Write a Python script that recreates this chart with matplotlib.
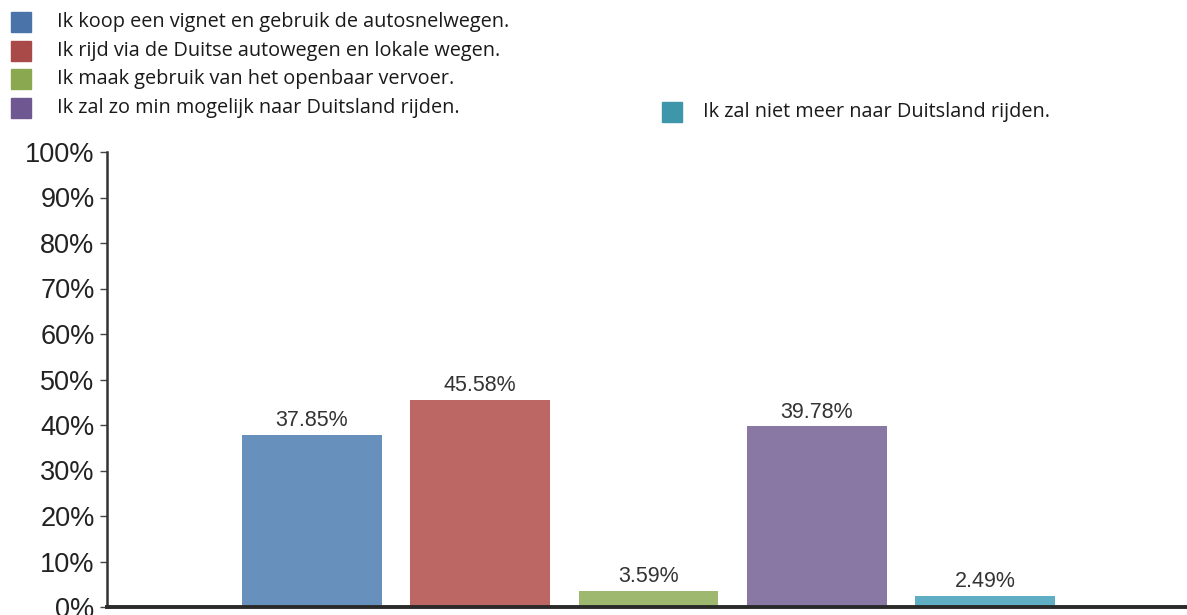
import matplotlib
matplotlib.use("Agg")
import matplotlib.pyplot as plt
from matplotlib.patches import Rectangle
from matplotlib.ticker import FuncFormatter

answers = [
    "Ik koop een vignet en gebruik de autosnelwegen.",
    "Ik rijd via de Duitse autowegen en lokale wegen.",
    "Ik maak gebruik van het openbaar vervoer.",
    "Ik zal zo min mogelijk naar Duitsland rijden.",
    "Ik zal niet meer naar Duitsland rijden.",
]
shares = [37.85, 45.58, 3.59, 39.78, 2.49]
bar_colors = ["#6890bd", "#bc6763", "#9fb86f", "#8a78a4", "#5faec3"]
key_colors = ["#4a74a9", "#a94a48", "#8aa84f", "#6f5791", "#3d96a9"]

W, H = 1187, 615
fig = plt.figure(figsize=(W / 100, H / 100), dpi=100)
ax = fig.add_axes([107 / W, 1 - 607 / H, 1 - 107 / W, (607 - 152) / H])

x = list(range(len(shares)))
bars = ax.bar(x, shares, width=0.83, color=bar_colors)
for rect, v in zip(bars, shares):
    ax.annotate(f"{v:.2f}%", (rect.get_x() + rect.get_width() / 2, v),
                xytext=(0, 2.5), textcoords="offset points", ha="center", va="bottom",
                fontsize=15.5, color="#333333", family="Liberation Sans")

ax.set_xlim(-1.218, 5.2)
ax.set_ylim(0, 100)
ax.set_yticks(range(0, 101, 10))
ax.yaxis.set_major_formatter(FuncFormatter(lambda v, _: f"{v:.0f}%"))
ax.set_xticks([])
for lab in ax.get_yticklabels():
    lab.set_family("Liberation Sans")
    lab.set_fontsize(19.5)
    lab.set_color("#222222")
ax.tick_params(axis="y", direction="out", length=5, width=1, color="#444444", pad=4)
for side in ("top", "right"):
    ax.spines[side].set_visible(False)
ax.spines["left"].set(color="#333333", linewidth=1.8)
ax.spines["bottom"].set(color="#2a2a2a", linewidth=2.8)

# hand-placed key, as in the source layout: (square x, text x, row y)
key_pos = [(11, 57, 22), (11, 57, 51), (11, 57, 79), (11, 57, 108), (662, 703, 112)]
for (kx, tx, ky), label, col in zip(key_pos, answers, key_colors):
    fig.add_artist(Rectangle((kx / W, 1 - (ky + 10) / H), 20 / W, 20 / H,
                             transform=fig.transFigure, color=col))
    fig.text(tx / W, 1 - ky / H, label, fontsize=14.3, family="Open Sans",
             color="#1a1a1a", va="center", ha="left")

fig.savefig("out.png", dpi=100)
